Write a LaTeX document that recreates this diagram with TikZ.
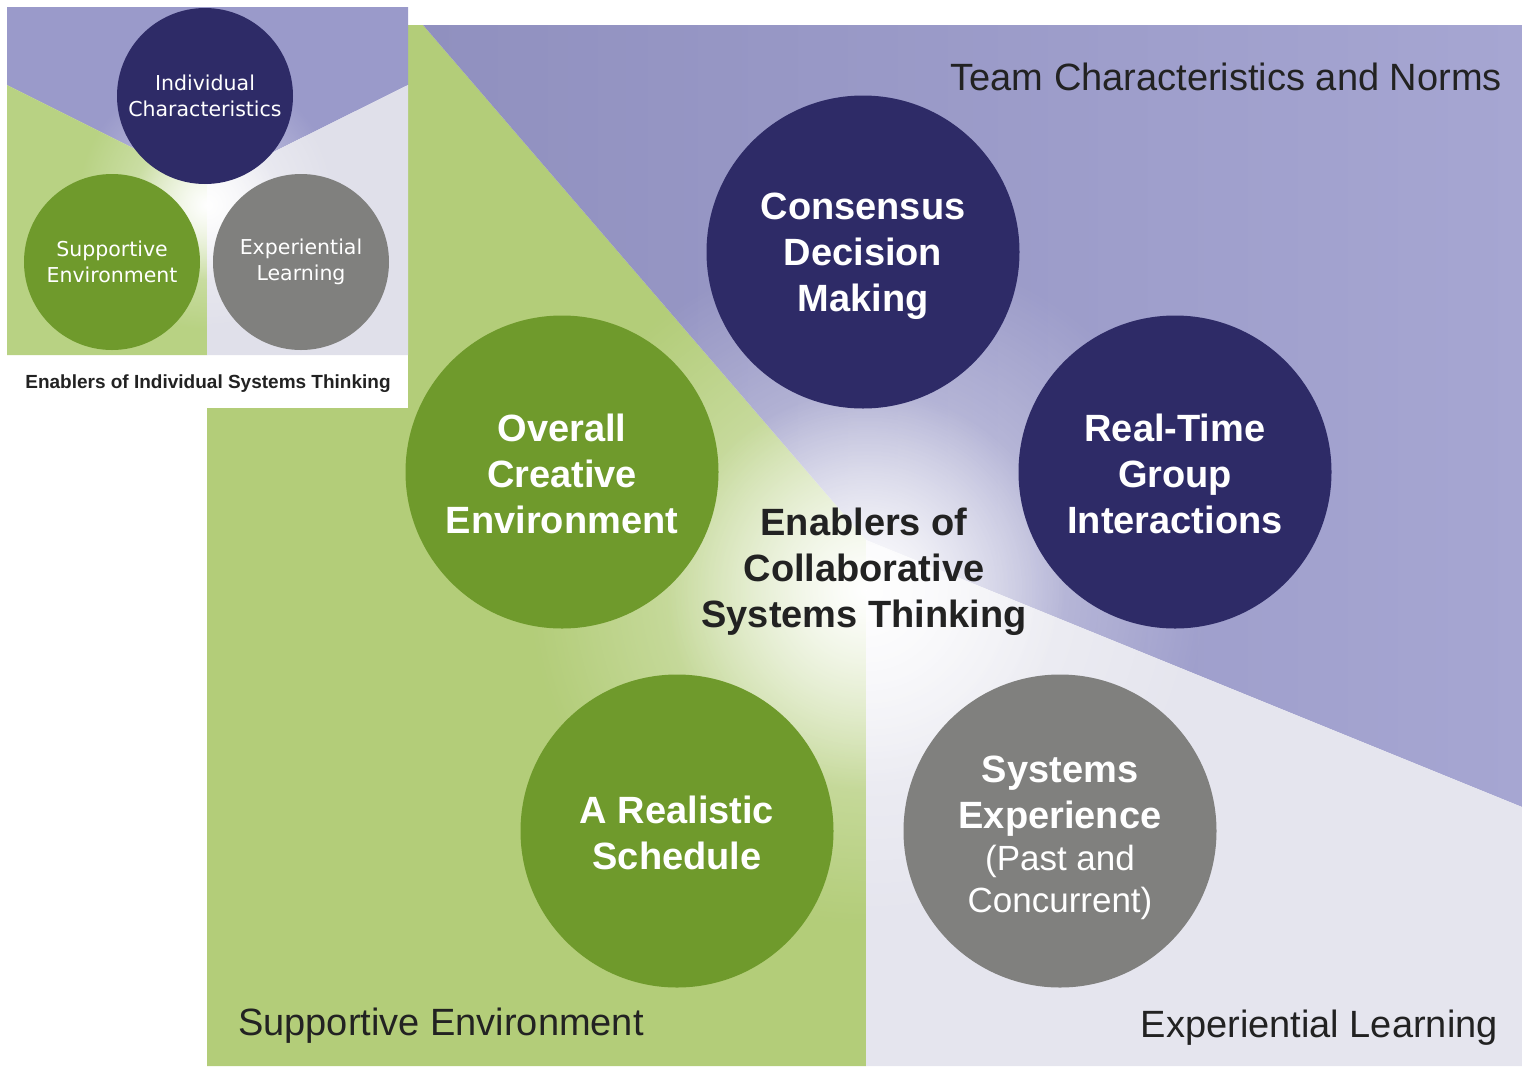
\documentclass[tikz,border=0pt]{standalone}
\usepackage{fontspec}
\setmainfont{Liberation Sans}
\newfontfamily\insetfont{DejaVu Sans}
\usetikzlibrary{fadings}
\tikzfading[name=glowfade, inner color=transparent!0, outer color=transparent!100]
\definecolor{purpleL}{HTML}{9090BF}
\definecolor{purpleR}{HTML}{A6A6D2}
\definecolor{greenbg}{HTML}{B3CD79}
\definecolor{whitebg}{HTML}{E5E5EE}
\definecolor{ipurple}{HTML}{9A9ACA}
\definecolor{igreen}{HTML}{B8D283}
\definecolor{iwhite}{HTML}{E0E0EA}
\definecolor{navy}{HTML}{2E2B67}
\definecolor{leaf}{HTML}{6F9A2C}
\definecolor{stone}{HTML}{80807E}
\definecolor{ink}{HTML}{222222}
\tikzset{
  bigcirc/.style={circle, minimum size=313pt, inner sep=0pt},
  circtext/.style={inner sep=0pt, text=white, align=center,
    font=\bfseries\fontsize{38}{46}\selectfont},
  navycirc/.style={bigcirc, fill=navy},
  leafcirc/.style={bigcirc, fill=leaf},
  stonecirc/.style={bigcirc, fill=stone},
  smallcirc/.style={circle, minimum size=176pt, inner sep=0pt, text=white, align=center,
    font=\insetfont\fontsize{20.5}{26}\selectfont},
  regionlabel/.style={inner sep=0pt, text=ink, font=\fontsize{38}{46}\selectfont},
  glow/.style={white, path fading=glowfade},
}
\begin{document}
\begin{tikzpicture}[x=1pt,y=-1pt]
\useasboundingbox (0,0) rectangle (1522,1066);
\fill[white] (0,0) rectangle (1522,1066);
% main panel regions
\fill[greenbg] (207,25) -- (423,25) -- (866,540) -- (866,1066) -- (207,1066) -- cycle;
\shade[left color=purpleL, right color=purpleR] (423,25) -- (1522,25) -- (1522,807) -- (866,540) -- cycle;
\fill[whitebg] (866,540) -- (1522,807) -- (1522,1066) -- (866,1066) -- cycle;
\fill[glow, opacity=0.6] (868,585) circle (340);
\fill[glow] (866,590) circle (200);
% main circles
\node[navycirc] (cons) at (863,252) {};
\node[circtext] (consT) at ([yshift=-4pt]cons.center) {Consensus\\Decision\\Making};
\node[navycirc] (rt) at (1175,472) {};
\node[circtext] (rtT) at ([yshift=-2pt]rt.center) {Real-Time\\Group\\Interactions};
\node[leafcirc] (oce) at (562,472) {};
\node[circtext] (oceT) at ([yshift=-1.5pt]oce.center) {Overall\\Creative\\Environment};
\node[leafcirc] (ars) at (677,831) {};
\node[circtext] (arsT) at ([yshift=-2pt]ars.center) {A Realistic\\Schedule};
\node[stonecirc] (se) at (1060,831) {};
\node[circtext] (seT) at ([yshift=-7pt]se.center) {Systems\\Experience\\[-4pt]{\mdseries\fontsize{35}{41}\selectfont (Past and}\\[-4pt]{\mdseries\fontsize{35}{41}\selectfont Concurrent)}};
\node[text=ink, align=center, inner sep=0pt, font=\bfseries\fontsize{38}{46}\selectfont] (center) at (864,572) {Enablers of\\Collaborative\\Systems Thinking};
% region labels
\node[regionlabel, anchor=base east] (team) at (1502,90) {Team Characteristics and Norms};
\node[regionlabel, anchor=base west] (supp) at (238,1035) {Supportive Environment};
\node[regionlabel, anchor=base east] (expl) at (1498,1037) {Experiential Learning};
% inset
\fill[white] (7,7) rectangle (408,408);
\fill[ipurple] (7,7) -- (408,7) -- (408,85) -- (207,185) -- (7,85) -- cycle;
\fill[igreen] (7,85) -- (207,185) -- (207,355) -- (7,355) -- cycle;
\fill[iwhite] (207,185) -- (408,85) -- (408,355) -- (207,355) -- cycle;
\fill[glow, opacity=0.6] (207,200) circle (130);
\fill[glow] (207,205) circle (75);
\node[smallcirc, fill=navy] (ic) at (205,96) {Individual\\Characteristics};
\node[smallcirc, fill=leaf] (ise) at (112,262) {Supportive\\Environment};
\node[smallcirc, fill=stone] (iel) at (301,262) {Experiential\\Learning};
\node[inner sep=0pt, text=ink, anchor=base, font=\bfseries\fontsize{19}{23}\selectfont] (cap) at (208,388) {Enablers of Individual Systems Thinking};
\end{tikzpicture}
\end{document}
